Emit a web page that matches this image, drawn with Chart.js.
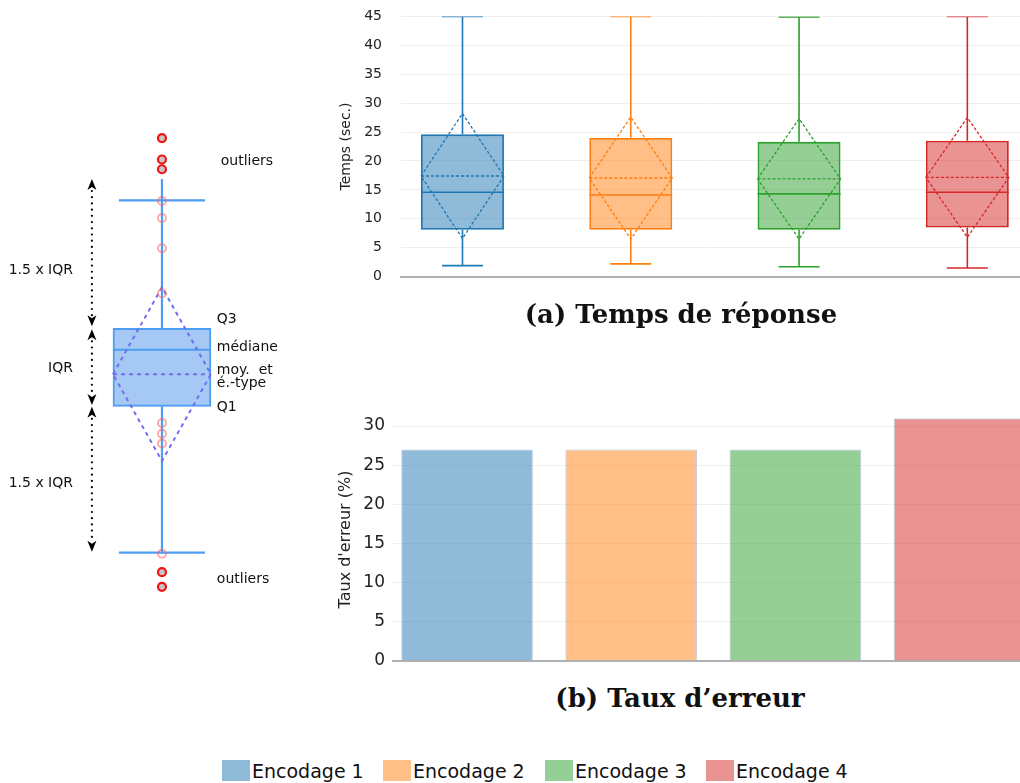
<!DOCTYPE html>
<html><head><meta charset="utf-8">
<script src="https://cdn.jsdelivr.net/npm/chart.js@4.4.1/dist/chart.umd.min.js"></script>
<style>
html,body{margin:0;padding:0;background:#fff;width:1020px;height:783px;overflow:hidden;position:relative;font-family:"DejaVu Sans",sans-serif;}
canvas{position:absolute;display:block;}
.cap{position:absolute;font-family:"DejaVu Serif",serif;font-weight:bold;font-size:26px;line-height:30px;color:#111;white-space:nowrap;transform:translateX(-50%);}
.leg{position:absolute;top:760px;height:21px;display:flex;align-items:center;font-size:19px;color:#111;white-space:nowrap;}
.leg span.sw{display:inline-block;width:28px;height:21px;margin-right:2px;}
</style></head><body>
<canvas id="diag" width="330" height="522" style="left:0;top:99px"></canvas>
<canvas id="chartA" width="690" height="315" style="left:330px;top:-11px"></canvas>
<canvas id="chartB" width="690" height="279" style="left:330px;top:400px"></canvas>
<div class="cap" style="left:681px;top:299px">(a) Temps de réponse</div>
<div class="cap" style="left:680px;top:683px">(b) Taux d’erreur</div>
<div id="legend"></div>
<script>
// ---------- data ----------
const categories = ['Encodage 1', 'Encodage 2', 'Encodage 3', 'Encodage 4'];
// (a) Temps de réponse (sec.)
const whiskerLow  = [1.9, 2.2, 1.7, 1.5];
const quartile1   = [8.1, 8.1, 8.1, 8.5];
const medians     = [14.6, 14.1, 14.3, 14.6];
const quartile3   = [24.6, 24.0, 23.3, 23.5];
const whiskerHigh = [45, 45, 44.9, 45];
const means       = [17.4, 17.05, 16.9, 17.15];
const stdDevs     = [10.8, 10.55, 10.4, 10.35];
// (b) Taux d'erreur (%)
const errorRates  = [27, 27, 27, 31];
// tick labels
const timeTicks   = [0, 5, 10, 15, 20, 25, 30, 35, 40, 45];
const errorTicks  = [0, 5, 10, 15, 20, 25, 30];
// explanatory diagram (arbitrary units)
const diagQ1 = 10, diagQ3 = 18, diagMedian = 15.8, diagMean = 13.3, diagStd = 8.9;
const diagWhiskerLow = -5.0, diagCapHigh = 31.1, diagLineTop = 33.3;
const diagOutliers = [37.5, 35.3, 34.3, -7.0, -8.5];
const diagInliers  = [31.05, 29.3, 26.2, 21.6, 8.3, 7.2, 6.2, -5.1];
const diagArrows   = [[33.3, 18.2], [17.9, 10.15], [9.95, -4.9]];
const diagLabels = [
  {text: 'outliers', x: 1.2, y: 35.09, align: 'left'},
  {text: 'Q3', x: 1.12, y: 18.92, align: 'left'},
  {text: 'médiane', x: 1.12, y: 16.05, align: 'left'},
  {text: 'moy.  et', x: 1.12, y: 13.72, align: 'left'},
  {text: 'é.-type', x: 1.12, y: 12.36, align: 'left'},
  {text: 'Q1', x: 1.12, y: 9.9, align: 'left'},
  {text: 'outliers', x: 1.12, y: -7.74, align: 'left'},
  {text: '1.5 x IQR', x: -1.816, y: 23.98, align: 'right'},
  {text: 'IQR', x: -1.816, y: 13.93, align: 'right'},
  {text: '1.5 x IQR', x: -1.816, y: 2.13, align: 'right'}
];

// ---------- styles ----------
const strokeColors = ['#1f77b4', '#ff7f0e', '#2ca02c', '#d62728'];
const fillColors = ['rgba(31,119,180,0.5)', 'rgba(255,127,14,0.5)', 'rgba(44,160,44,0.5)', 'rgba(214,39,40,0.5)'];
const GRID = '#eeeeee', AXIS = '#b0b0b0', TXT = '#222';
const FONT = '"DejaVu Sans", sans-serif';
Chart.defaults.font.family = FONT;
Chart.defaults.color = TXT;

// ---------- legend ----------
const legLefts = [222, 383, 545, 706];
const legend = document.getElementById('legend');
categories.forEach((c, i) => {
  const d = document.createElement('div');
  d.className = 'leg';
  d.style.left = legLefts[i] + 'px';
  d.innerHTML = '<span class="sw" style="background:' + fillColors[i] + '"></span>' + c;
  legend.appendChild(d);
});

const fixedTicks = vals => (s => { s.ticks = vals.map(v => ({value: v})); });

// ---------- (a) box plots ----------
const HW = 0.2465, CW = 0.122;
const boxDatasets = [];
categories.forEach((c, i) => {
  const x = i + 1, m = means[i], s = stdDevs[i];
  boxDatasets.push({
    type: 'line', label: c + ' moustaches',
    data: [
      {x, y: whiskerLow[i]}, {x, y: quartile1[i]}, {x, y: null},
      {x, y: quartile3[i]}, {x, y: whiskerHigh[i]}, {x, y: null},
      {x: x - CW, y: whiskerLow[i]}, {x: x + CW, y: whiskerLow[i]}, {x, y: null},
      {x: x - CW, y: whiskerHigh[i]}, {x: x + CW, y: whiskerHigh[i]}, {x, y: null},
      {x: x - HW, y: medians[i]}, {x: x + HW, y: medians[i]}
    ],
    borderColor: strokeColors[i], borderWidth: 1.6, pointRadius: 0, fill: false, spanGaps: false, tension: 0
  });
  boxDatasets.push({
    type: 'line', label: c + ' moyenne',
    data: [
      {x: x - HW, y: m}, {x, y: m + s}, {x: x + HW, y: m}, {x, y: m - s}, {x: x - HW, y: m}, {x, y: null},
      {x: x - HW, y: m}, {x: x + HW, y: m}
    ],
    borderColor: strokeColors[i], borderWidth: 1.3, borderDash: [3, 2], pointRadius: 0, fill: false, spanGaps: false, tension: 0
  });
});
boxDatasets.push({
  type: 'bar', label: 'boîtes',
  data: categories.map((c, i) => ({x: i + 1, y: [quartile1[i], quartile3[i]]})),
  backgroundColor: fillColors, borderColor: strokeColors, borderWidth: 1.8, borderSkipped: false,
  barPercentage: 0.493, categoryPercentage: 1
});

new Chart(document.getElementById('chartA'), {
  type: 'bar',
  data: {datasets: boxDatasets},
  options: {
    responsive: false, animation: false,
    layout: {padding: 0, autoPadding: false},
    plugins: {legend: {display: false}, tooltip: {enabled: false}},
    scales: {
      x: {type: 'linear', min: 0.6346, max: 4.313, offset: false,
          afterBuildTicks: fixedTicks([1, 2, 3, 4]),
          ticks: {display: false}, grid: {display: false, offset: false},
          border: {display: true, color: AXIS, width: 2}},
      y: {type: 'linear', min: 0, max: 45,
          afterBuildTicks: fixedTicks(timeTicks),
          afterFit: s => { s.width = 71; },
          ticks: {padding: 19, font: {size: 14}, color: TXT},
          grid: {color: GRID, drawTicks: false},
          border: {display: false},
          title: {display: true, text: 'Temps (sec.)', font: {size: 14}, color: TXT, padding: {top: 8, bottom: 0}}}
    }
  }
});

// ---------- (b) bars ----------
new Chart(document.getElementById('chartB'), {
  type: 'bar',
  data: {datasets: [{
    label: "Taux d'erreur",
    data: categories.map((c, i) => ({x: i + 1, y: errorRates[i]})),
    backgroundColor: fillColors, borderColor: 'rgba(185,203,225,0.9)', borderWidth: 1, borderSkipped: 'start',
    barPercentage: 0.802, categoryPercentage: 1
  }]},
  options: {
    responsive: false, animation: false,
    layout: {padding: 0, autoPadding: false},
    plugins: {legend: {display: false}, tooltip: {enabled: false}},
    scales: {
      x: {type: 'linear', min: 0.549, max: 4.368, offset: false,
          afterBuildTicks: fixedTicks([1, 2, 3, 4]),
          ticks: {display: false}, grid: {display: false, offset: false},
          border: {display: true, color: AXIS, width: 2}},
      y: {type: 'linear', min: 0, max: 31,
          afterBuildTicks: fixedTicks(errorTicks),
          afterFit: s => { s.width = 63; },
          ticks: {padding: 8, font: {size: 17}, color: TXT},
          grid: {color: GRID, drawTicks: false},
          border: {display: false},
          title: {display: true, text: "Taux d'erreur (%)", font: {size: 16}, color: TXT, padding: {top: 6, bottom: 0}}}
    }
  }
});

// ---------- explanatory diagram ----------
const D_STROKE = '#4d9df2', D_FILL = '#a5c8f4', D_DASH = '#6f6ff2';
const DCW = 0.878;
const diagPlugin = {
  id: 'diagAnnot',
  afterDatasetsDraw(chart) {
    const {ctx, scales: {x, y}} = chart;
    ctx.save();
    const ax = x.getPixelForValue(-1.43);
    const head = (tip, dir) => {
      ctx.beginPath();
      ctx.moveTo(ax, tip);
      ctx.lineTo(ax - 4.5, tip - dir * 11);
      ctx.lineTo(ax, tip - dir * 8);
      ctx.lineTo(ax + 4.5, tip - dir * 11);
      ctx.closePath();
      ctx.fillStyle = '#000';
      ctx.fill();
    };
    diagArrows.forEach(([a, b]) => {
      const ya = y.getPixelForValue(a), yb = y.getPixelForValue(b);
      ctx.strokeStyle = '#000'; ctx.lineWidth = 2.2; ctx.lineCap = 'round';
      ctx.setLineDash([0.01, 6.2]);
      ctx.beginPath(); ctx.moveTo(ax, ya + 12); ctx.lineTo(ax, yb - 10); ctx.stroke();
      ctx.setLineDash([]);
      head(ya, -1); head(yb, 1);
    });
    ctx.fillStyle = '#111';
    ctx.font = '14px ' + FONT;
    ctx.textBaseline = 'middle';
    diagLabels.forEach(l => {
      ctx.textAlign = l.align;
      ctx.fillText(l.text, x.getPixelForValue(l.x), y.getPixelForValue(l.y));
    });
    ctx.restore();
  }
};
new Chart(document.getElementById('diag'), {
  type: 'bar',
  data: {datasets: [
    {type: 'line', label: 'outliers', data: diagOutliers.map(v => ({x: 0, y: v})), showLine: false,
     pointRadius: 4, pointBorderWidth: 2.2, pointBorderColor: '#f01414', pointBackgroundColor: '#c6c6c6'},
    {type: 'line', label: 'points', data: diagInliers.map(v => ({x: 0, y: v})), showLine: false,
     pointRadius: 4, pointBorderWidth: 2, pointBorderColor: 'rgba(250,100,100,0.55)', pointBackgroundColor: 'rgba(255,255,255,0)'},
    {type: 'line', label: 'moyenne', data: [
      {x: -1, y: diagMean}, {x: 0, y: diagMean + diagStd}, {x: 1, y: diagMean}, {x: 0, y: diagMean - diagStd}, {x: -1, y: diagMean},
      {x: 0, y: null}, {x: -1, y: diagMean}, {x: 1, y: diagMean}],
     borderColor: D_DASH, borderWidth: 2, borderDash: [4, 4], pointRadius: 0, fill: false, spanGaps: false},
    {type: 'line', label: 'moustaches', data: [
      {x: 0, y: diagWhiskerLow}, {x: 0, y: diagQ1}, {x: 0, y: null},
      {x: 0, y: diagQ3}, {x: 0, y: diagLineTop}, {x: 0, y: null},
      {x: -DCW, y: diagWhiskerLow}, {x: DCW, y: diagWhiskerLow}, {x: 0, y: null},
      {x: -DCW, y: diagCapHigh}, {x: DCW, y: diagCapHigh}, {x: 0, y: null},
      {x: -1, y: diagMedian}, {x: 1, y: diagMedian}],
     borderColor: D_STROKE, borderWidth: 2.2, pointRadius: 0, fill: false, spanGaps: false},
    {type: 'bar', label: 'boîte', data: [{x: 0, y: [diagQ1, diagQ3]}],
     backgroundColor: D_FILL, borderColor: D_STROKE, borderWidth: 2, borderSkipped: false, barThickness: 98}
  ]},
  options: {
    responsive: false, animation: false,
    layout: {padding: 0, autoPadding: false},
    plugins: {legend: {display: false}, tooltip: {enabled: false}},
    scales: {
      x: {type: 'linear', min: -3.306, max: 3.43, display: false, offset: false},
      y: {type: 'linear', min: -12, max: 41.5, display: false}
    }
  },
  plugins: [diagPlugin]
});
</script>
</body></html>
